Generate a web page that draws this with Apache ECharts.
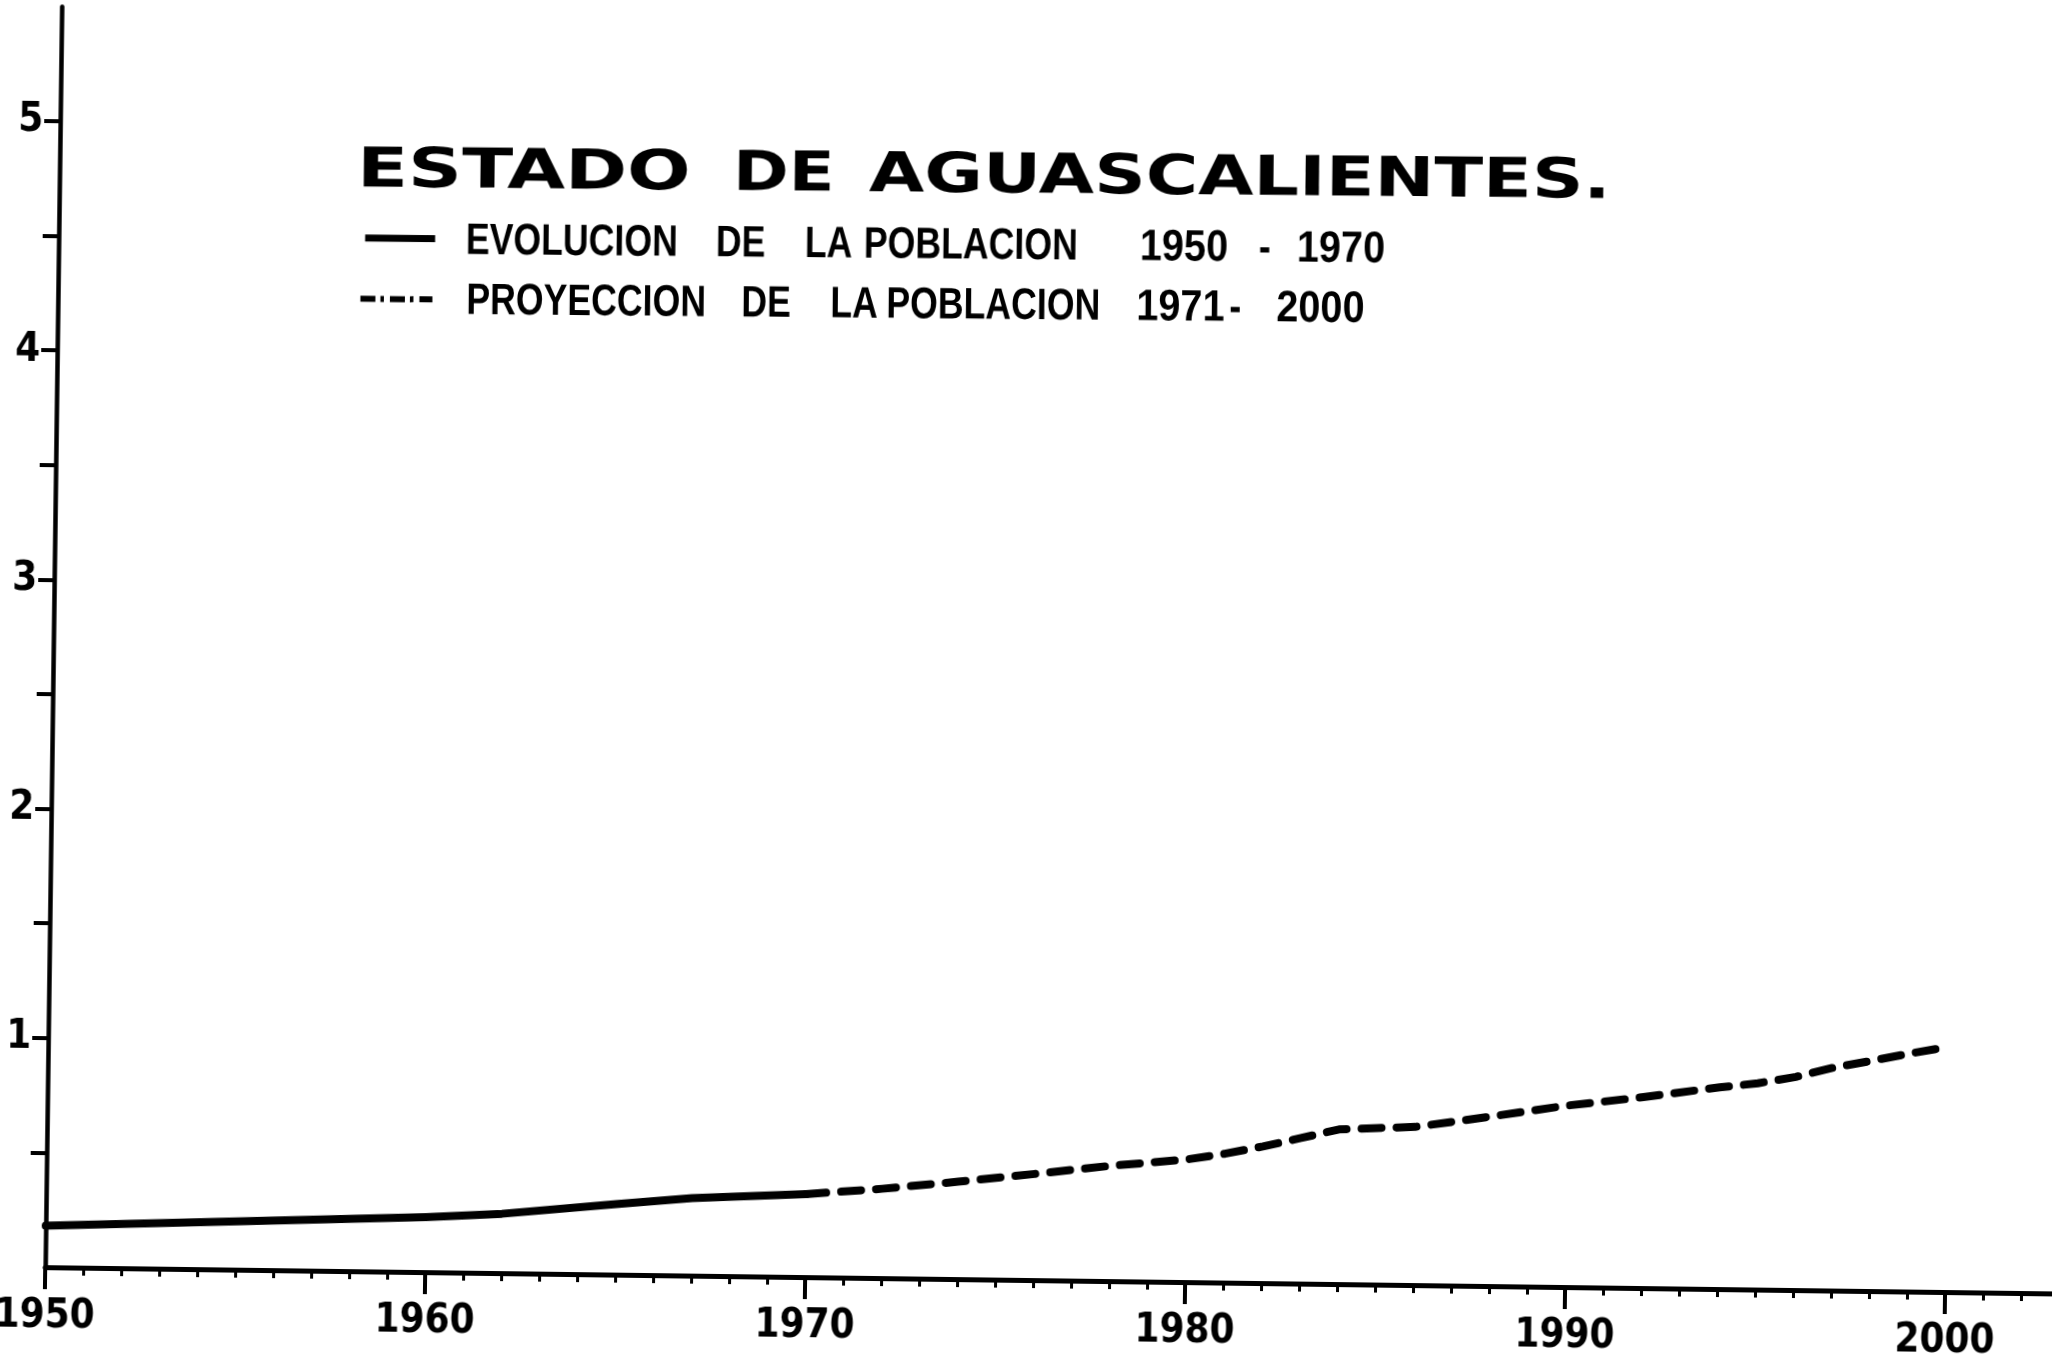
<!DOCTYPE html>
<html>
<head>
<meta charset="utf-8">
<title>Estado de Aguascalientes</title>
<script src="https://cdn.jsdelivr.net/npm/echarts@6/dist/echarts.min.js"></script>
<style>
  html, body { margin: 0; padding: 0; background: #ffffff; overflow: hidden; }
  /* the sheet sits slightly askew */
  #chart { position: absolute; left: 0; top: 0; width: 2060px; height: 1357px;
           transform: rotate(0.75deg); transform-origin: 50% 50%; }
</style>
</head>
<body>
<div id="chart"></div>
<script>
// Población del Estado de Aguascalientes, millones de habitantes
const evolucionYears  = [1950, 1955, 1960, 1962, 1965, 1967, 1970];
const evolucionValues = [0.181, 0.21, 0.24, 0.259, 0.308, 0.338, 0.362];

const proyeccionYears  = [1970, 1972, 1974, 1976, 1978, 1980, 1981, 1982, 1983, 1984, 1985,
                          1986, 1988, 1990, 1992, 1994, 1995, 1996, 1997, 1998, 1999, 2000];
const proyeccionValues = [0.362, 0.39, 0.425, 0.463, 0.503, 0.535, 0.562, 0.596, 0.635, 0.675, 0.683,
                          0.69, 0.74, 0.792, 0.833, 0.88, 0.9, 0.93, 0.973, 1.005, 1.039, 1.069];

const yTickValues  = [0.5, 1, 1.5, 2, 2.5, 3, 3.5, 4, 4.5, 5];
const yLabelValues = [1, 2, 3, 4, 5];

const titleWords = ['ESTADO', 'DE', 'AGUASCALIENTES.'];
const legendRow1 = ['EVOLUCION', 'DE', 'LA', 'POBLACION', '1950', '-', '1970'];
const legendRow2 = ['PROYECCION', 'DE', 'LA', 'POBLACION', '1971', '-', '2000'];

const INK = '#000000';
const labelFamily = "'Liberation Sans Narrow', 'DejaVu Sans Condensed', 'Liberation Sans', sans-serif";
const titleFont  = "bold 55px 'DejaVu Sans', sans-serif";
const legendFont = "bold 44px 'Liberation Sans', Arial, sans-serif";

function word(text, x, y, font, sx) {
  return {
    type: 'text', x: x, y: y, scaleX: sx,
    style: { text: text, font: font, fill: INK,
             align: 'left', verticalAlign: 'middle',
             textAlign: 'left', textVerticalAlign: 'middle' }
  };
}

// word offsets inside the heading block
const titleX      = [0, 376, 512];
const titleScale  = [1.36, 1.22, 1.30];
const row1X   = [109.6, 359.6, 448.6, 507.6, 783.6, 902.6, 940.6];
const row2X   = [110.6, 385.6, 474.6, 530.6, 780.6, 873.6, 920.6];
const row1Y = 68.6, row2Y = 128.6;

const headingChildren = [];
titleWords.forEach((w, i) => headingChildren.push(word(w, titleX[i], 0, titleFont, titleScale[i])));
legendRow1.forEach((w, i) => headingChildren.push(word(w, row1X[i], row1Y, legendFont, /\d/.test(w) ? 0.9 : 0.81)));
legendRow2.forEach((w, i) => headingChildren.push(word(w, row2X[i], row2Y, legendFont, /\d/.test(w) ? 0.9 : 0.81)));
// legend keys
headingChildren.push({
  type: 'line', shape: { x1: 8.8, y1: 65.9, x2: 78.8, y2: 65.9 },
  style: { stroke: INK, lineWidth: 7 }
});
headingChildren.push({
  type: 'line', shape: { x1: 4.6, y1: 126.6, x2: 76.6, y2: 126.6 },
  style: { stroke: INK, lineWidth: 6, lineDash: [15, 5, 3.5, 6] }
});

const chart = echarts.init(document.getElementById('chart'), null, { renderer: 'canvas' });

chart.setOption({
  animation: false,
  backgroundColor: '#ffffff',
  // plot area runs past the right edge of the sheet (38 px per year)
  grid: { left: 53, top: 19.4, width: 2280, height: 1260.6,
          containLabel: false, outerBoundsMode: 'none' },
  xAxis: {
    type: 'value', min: 1950, max: 2010, interval: 10,
    axisLine: { show: true, onZero: false, lineStyle: { color: INK, width: 5 } },
    axisTick: { show: true, length: 22, lineStyle: { color: INK, width: 4 } },
    minorTick: { show: true, splitNumber: 10, length: 8, lineStyle: { color: INK, width: 3 } },
    splitLine: { show: false },
    minorSplitLine: { show: false },
    axisLabel: {
      show: true, margin: 30, color: INK, fontSize: 40, fontWeight: 'bold',
      fontFamily: labelFamily, formatter: v => (v <= 2000 ? String(v) : '')
    }
  },
  yAxis: {
    type: 'value', min: 0, max: 5.5, interval: 0.5,
    axisLine: { show: true, onZero: false, lineStyle: { color: INK, width: 4.5 } },
    axisTick: { show: true, length: 16, customValues: yTickValues, lineStyle: { color: INK, width: 4 } },
    splitLine: { show: false },
    axisLabel: {
      show: true, margin: 17, customValues: yLabelValues, color: INK, fontSize: 40,
      fontWeight: 'bold', fontFamily: labelFamily,
      formatter: v => (v > 0 && Number.isInteger(v)) ? String(v) : ''
    }
  },
  series: [
    {
      name: 'EVOLUCION DE LA POBLACION 1950 - 1970',
      type: 'line',
      data: evolucionYears.map((y, i) => [y, evolucionValues[i]]),
      symbol: 'none',
      lineStyle: { color: INK, width: 8, cap: 'round', join: 'round' },
      z: 3
    },
    {
      name: 'PROYECCION DE LA POBLACION 1971 - 2000',
      type: 'line',
      data: proyeccionYears.map((y, i) => [y, proyeccionValues[i]]),
      symbol: 'none',
      lineStyle: { color: INK, width: 8, type: [20, 15], cap: 'round', join: 'round' },
      z: 3
    }
  ],
  graphic: [
    { type: 'group', x: 350.4, y: 181, rotation: 0.004, children: headingChildren }
  ]
});
</script>
</body>
</html>
